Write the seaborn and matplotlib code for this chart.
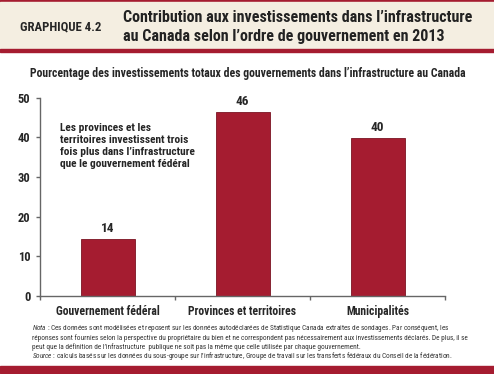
import matplotlib
matplotlib.use("Agg")
import matplotlib.pyplot as plt
import seaborn as sns
import pandas as pd
from matplotlib.patches import Rectangle
from matplotlib import font_manager

# data
categories = ["Gouvernement fédéral", "Provinces et territoires", "Municipalités"]
values = [14.2, 46.4, 39.7]
yticks = [0, 10, 20, 30, 40, 50]

RED = "#A51C30"
BEIGE = "#F4EEE1"
W, H = 494, 374

installed = {f.name for f in font_manager.fontManager.ttflist}
narrow = [f for f in ["Liberation Sans Narrow", "Arial Narrow", "Roboto Condensed",
                      "Archivo Narrow", "PT Sans Narrow", "Pragati Narrow"]
          if f in installed]
main_font = narrow[0] if narrow else "Liberation Sans"

sns.set_theme(style="white")
plt.rcParams["font.family"] = [main_font, "Liberation Sans", "DejaVu Sans"]
plt.rcParams["mathtext.fontset"] = "custom"
plt.rcParams["mathtext.rm"] = main_font
plt.rcParams["mathtext.it"] = main_font + ":italic"

fig = plt.figure(figsize=(W / 100, H / 100), dpi=100)
renderer = fig.canvas.get_renderer()


def fit_size(t, width_px):
    w = t.get_window_extent(renderer).width
    return t.get_fontsize() * width_px / w


def text_lines(lines, x, ys, width_px, widest, va="center", **kw):
    # one text per line, all at the size that makes the widest line width_px wide
    ts = [fig.text(x / W, 1 - y / H, s, va=va, ha="left", **kw)
          for s, y in zip(lines, ys)]
    size = fit_size(ts[widest], width_px)
    for t in ts:
        t.set_fontsize(size)
    return ts


# header band
fig.patches.append(Rectangle((0, 1 - 2 / H), 1, 2 / H, transform=fig.transFigure,
                             color=RED, zorder=0))
fig.patches.append(Rectangle((0, 1 - 49 / H), 1, 47 / H, transform=fig.transFigure,
                             color=BEIGE, zorder=0))
fig.patches.append(Rectangle((0, 1 - 52 / H), 1, 3 / H, transform=fig.transFigure,
                             color=RED, zorder=0))
# bottom rule
fig.patches.append(Rectangle((0, 1 / H), 1, 7 / H, transform=fig.transFigure,
                             color=RED, zorder=0))

text_lines(["GRAPHIQUE 4.2"], 20, [27], 81, 0, fontsize=10, fontweight="bold")
text_lines(["Contribution aux investissements dans l\u2019infrastructure",
            "au Canada selon l\u2019ordre de gouvernement en 2013"],
           123, [17, 37], 352, 0, fontsize=14, fontweight="bold", color="#222222")
text_lines(["Pourcentage des investissements totaux des gouvernements dans l\u2019infrastructure au Canada"],
           30, [74], 440, 0, fontsize=9, fontweight="bold")

df = pd.DataFrame({"cat": categories, "val": values})

ax = fig.add_axes([40 / W, (H - 295.7) / H, 405 / W, 198 / H])
sns.barplot(data=df, x="cat", y="val", color=RED, width=0.4, saturation=1,
            edgecolor="#7a1422", linewidth=0.6, ax=ax)
ax.set_xlim(-0.5, 2.5)
ax.set_ylim(0, 50)
ax.set_yticks(yticks)
ax.set_xlabel("")
ax.set_ylabel("")
ax.set_facecolor("none")

for s in ["top", "right"]:
    ax.spines[s].set_visible(False)
for s in ["left", "bottom"]:
    ax.spines[s].set_color("#666666")
    ax.spines[s].set_linewidth(1.0)

ax.tick_params(axis="y", which="major", direction="out", length=3, width=1,
               color="#666666", labelsize=9, pad=4, left=True)
for lab in ax.get_yticklabels():
    lab.set_fontweight("bold")
ax.tick_params(axis="x", which="major", length=0, labelsize=10, pad=7)
for lab in ax.get_xticklabels():
    lab.set_fontweight("bold")
ax.set_xticks([-0.5, 0.5, 1.5, 2.5], minor=True)
ax.tick_params(axis="x", which="minor", direction="out", length=3, width=1,
               color="#666666", bottom=True)

# same size for the three category labels, fitted on the first one
labs = ax.get_xticklabels()
size = fit_size(labs[0], 103)
ax.tick_params(axis="x", which="major", labelsize=size)

ax.bar_label(ax.containers[0], fmt="%.0f", padding=3, fontsize=9.5,
             fontweight="bold")

text_lines(["Les provinces et les", "territoires investissent trois",
            "fois plus dans l\u2019infrastructure", "que le gouvernement fédéral"],
           60, [128, 140, 152, 164], 135, 2, fontsize=9, fontweight="bold")

text_lines(["$\\it{Nota}$ : Ces données sont modélisées et reposent sur les données autodéclarées de Statistique Canada extraites de sondages. Par conséquent, les",
            "réponses sont fournies selon la perspective du propriétaire du bien et ne correspondent pas nécessairement aux investissements déclarés. De plus, il se",
            "peut que la définition de l\u2019infrastructure  publique ne soit pas la même que celle utilisée par chaque gouvernement.",
            "$\\it{Source}$ : calculs basés sur les données du sous-groupe sur l\u2019infrastructure, Groupe de travail sur les transferts fédéraux du Conseil de la fédération."],
           32, [329.5, 339.5, 349, 358.5], 433, 1, va="baseline",
           fontsize=6, color="#333333")

fig.savefig("out.png", dpi=100)
